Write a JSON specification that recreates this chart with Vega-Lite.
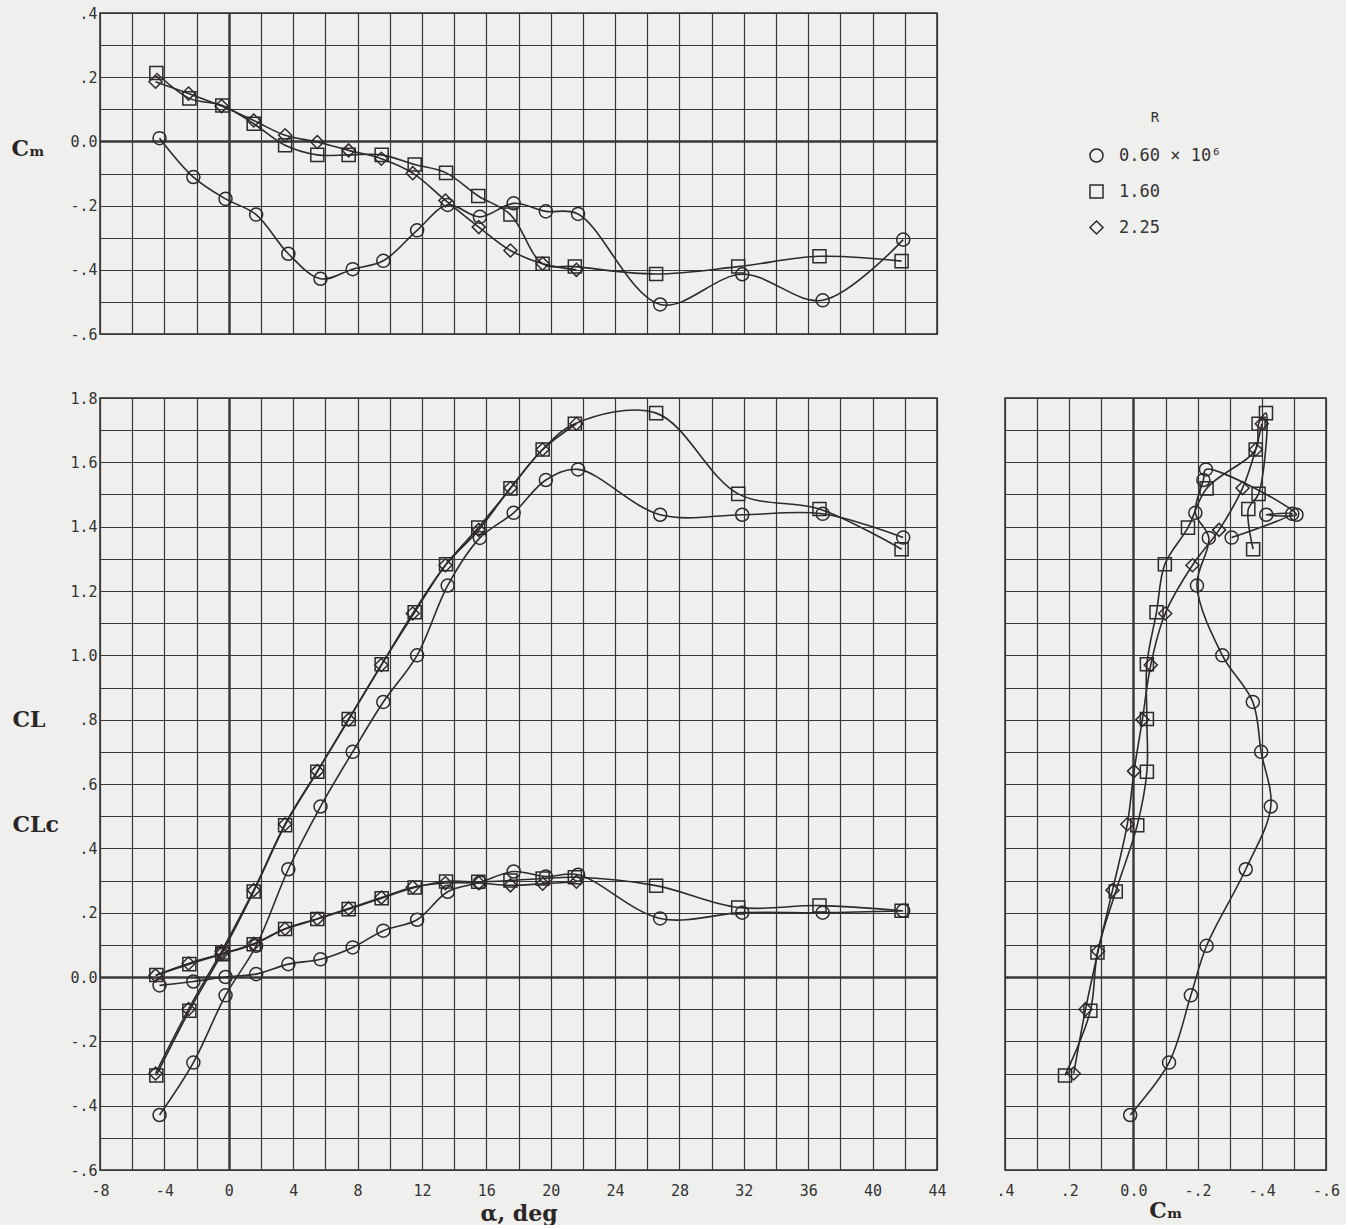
{
  "$schema": "https://vega.github.io/schema/vega-lite/v6.json",
  "background": "#efefed",
  "padding": {"left": 10, "top": 5, "right": 5, "bottom": 0},
  "spacing": 47,
  "datasets": {
    "d": [
      {"R": "0.60", "alpha": -4.3, "Cm": 0.01, "CL": -0.429, "CLc": -0.026},
      {"R": "0.60", "alpha": -2.2, "Cm": -0.111, "CL": -0.266, "CLc": -0.014},
      {"R": "0.60", "alpha": -0.2, "Cm": -0.179, "CL": -0.057, "CLc": 0.0},
      {"R": "0.60", "alpha": 1.7, "Cm": -0.228, "CL": 0.097, "CLc": 0.009},
      {"R": "0.60", "alpha": 3.7, "Cm": -0.35, "CL": 0.335, "CLc": 0.04},
      {"R": "0.60", "alpha": 5.7, "Cm": -0.428, "CL": 0.53, "CLc": 0.055},
      {"R": "0.60", "alpha": 7.7, "Cm": -0.398, "CL": 0.7, "CLc": 0.092},
      {"R": "0.60", "alpha": 9.6, "Cm": -0.372, "CL": 0.855, "CLc": 0.144},
      {"R": "0.60", "alpha": 11.7, "Cm": -0.277, "CL": 1.0, "CLc": 0.178},
      {"R": "0.60", "alpha": 13.6, "Cm": -0.198, "CL": 1.217, "CLc": 0.265},
      {"R": "0.60", "alpha": 15.6, "Cm": -0.235, "CL": 1.365, "CLc": 0.294},
      {"R": "0.60", "alpha": 17.7, "Cm": -0.193, "CL": 1.443, "CLc": 0.328},
      {"R": "0.60", "alpha": 19.7, "Cm": -0.218, "CL": 1.545, "CLc": 0.312},
      {"R": "0.60", "alpha": 21.7, "Cm": -0.226, "CL": 1.578, "CLc": 0.318},
      {"R": "0.60", "alpha": 26.8, "Cm": -0.508, "CL": 1.437, "CLc": 0.182},
      {"R": "0.60", "alpha": 31.9, "Cm": -0.414, "CL": 1.437, "CLc": 0.2},
      {"R": "0.60", "alpha": 36.9, "Cm": -0.495, "CL": 1.44, "CLc": 0.2},
      {"R": "0.60", "alpha": 41.9, "Cm": -0.306, "CL": 1.366, "CLc": 0.206},
      {"R": "1.60", "alpha": -4.5, "Cm": 0.213, "CL": -0.306, "CLc": 0.006},
      {"R": "1.60", "alpha": -2.45, "Cm": 0.134, "CL": -0.105, "CLc": 0.04},
      {"R": "1.60", "alpha": -0.4, "Cm": 0.112, "CL": 0.076, "CLc": 0.071},
      {"R": "1.60", "alpha": 1.55, "Cm": 0.055, "CL": 0.266, "CLc": 0.102},
      {"R": "1.60", "alpha": 3.5, "Cm": -0.012, "CL": 0.472, "CLc": 0.149},
      {"R": "1.60", "alpha": 5.5, "Cm": -0.042, "CL": 0.638, "CLc": 0.18},
      {"R": "1.60", "alpha": 7.45, "Cm": -0.042, "CL": 0.802, "CLc": 0.211},
      {"R": "1.60", "alpha": 9.5, "Cm": -0.042, "CL": 0.972, "CLc": 0.245},
      {"R": "1.60", "alpha": 11.55, "Cm": -0.072, "CL": 1.134, "CLc": 0.278},
      {"R": "1.60", "alpha": 13.5, "Cm": -0.098, "CL": 1.283, "CLc": 0.297},
      {"R": "1.60", "alpha": 15.5, "Cm": -0.17, "CL": 1.397, "CLc": 0.296},
      {"R": "1.60", "alpha": 17.5, "Cm": -0.228, "CL": 1.519, "CLc": 0.3},
      {"R": "1.60", "alpha": 19.5, "Cm": -0.381, "CL": 1.64, "CLc": 0.306},
      {"R": "1.60", "alpha": 21.5, "Cm": -0.39, "CL": 1.72, "CLc": 0.31},
      {"R": "1.60", "alpha": 26.55, "Cm": -0.413, "CL": 1.753, "CLc": 0.284},
      {"R": "1.60", "alpha": 31.65, "Cm": -0.39, "CL": 1.502, "CLc": 0.216},
      {"R": "1.60", "alpha": 36.7, "Cm": -0.358, "CL": 1.455, "CLc": 0.222},
      {"R": "1.60", "alpha": 41.8, "Cm": -0.373, "CL": 1.33, "CLc": 0.206},
      {"R": "2.25", "alpha": -4.55, "Cm": 0.186, "CL": -0.3, "CLc": 0.005},
      {"R": "2.25", "alpha": -2.5, "Cm": 0.149, "CL": -0.1, "CLc": 0.042},
      {"R": "2.25", "alpha": -0.45, "Cm": 0.11, "CL": 0.08, "CLc": 0.072},
      {"R": "2.25", "alpha": 1.55, "Cm": 0.065, "CL": 0.27, "CLc": 0.103},
      {"R": "2.25", "alpha": 3.5, "Cm": 0.019, "CL": 0.475, "CLc": 0.15},
      {"R": "2.25", "alpha": 5.5, "Cm": -0.002, "CL": 0.64, "CLc": 0.181},
      {"R": "2.25", "alpha": 7.45, "Cm": -0.028, "CL": 0.8, "CLc": 0.213},
      {"R": "2.25", "alpha": 9.48, "Cm": -0.054, "CL": 0.97, "CLc": 0.247},
      {"R": "2.25", "alpha": 11.43, "Cm": -0.099, "CL": 1.13, "CLc": 0.279},
      {"R": "2.25", "alpha": 13.46, "Cm": -0.184, "CL": 1.28, "CLc": 0.292},
      {"R": "2.25", "alpha": 15.53, "Cm": -0.267, "CL": 1.39, "CLc": 0.292},
      {"R": "2.25", "alpha": 17.5, "Cm": -0.34, "CL": 1.52, "CLc": 0.285},
      {"R": "2.25", "alpha": 19.5, "Cm": -0.381, "CL": 1.64, "CLc": 0.29},
      {"R": "2.25", "alpha": 21.6, "Cm": -0.4, "CL": 1.72, "CLc": 0.296}
    ]
  },
  "config": {
    "view": {"stroke": "#2e2a2a", "strokeWidth": 1.5},
    "axis": {
      "labelFont": "DejaVu Sans Mono",
      "labelFontSize": 15,
      "labelColor": "#333333",
      "labelFlush": false,
      "labelOverlap": false,
      "ticks": false,
      "domain": false,
      "grid": true,
      "gridColor": "#3a3636",
      "gridOpacity": 1,
      "titleFont": "DejaVu Serif",
      "titleFontSize": 22,
      "titleFontWeight": "bold",
      "titleColor": "#2a2626"
    }
  },
  "vconcat": [
    {
      "width": 837,
      "height": 321,
      "data": {"name": "d"},
      "encoding": {
        "x": {
          "field": "alpha", "type": "quantitative",
          "scale": {"domain": [-8, 44], "nice": false, "zero": false},
          "axis": {
            "values": [-8, -6, -4, -2, 0, 2, 4, 6, 8, 10, 12, 14, 16, 18, 20, 22, 24, 26, 28, 30, 32, 34, 36, 38, 40, 42, 44],
            "labels": false, "title": null,
            "gridWidth": {"condition": {"test": "datum.value == 0", "value": 2.4}, "value": 1.2}
          }
        },
        "y": {
          "field": "Cm", "type": "quantitative",
          "scale": {"domain": [-0.6, 0.4], "nice": false, "zero": false},
          "axis": {
            "values": [-0.6, -0.5, -0.4, -0.3, -0.2, -0.1, 0, 0.1, 0.2, 0.3, 0.4],
            "labelExpr": "round(datum.value*10) % 2 != 0 ? '' : datum.value == 0 ? '0.0' : (datum.value < 0 ? '-' : '') + '.' + round(abs(datum.value)*10) + '\u00a0'",
            "labelPadding": 3,
            "gridWidth": {"condition": {"test": "datum.value == 0", "value": 2.4}, "value": 1.2},
            "title": "Cₘ", "titleAngle": 0, "titleAlign": "left", "titleBaseline": "middle",
            "titleX": -89, "titleY": 135
          }
        }
      },
      "layer": [
        {
          "mark": {"type": "line", "interpolate": "catmull-rom", "color": "#2e2a2a", "strokeWidth": 1.6},
          "encoding": {"detail": {"field": "R"}}
        },
        {
          "mark": {"type": "point", "filled": false, "color": "#2e2a2a", "strokeWidth": 1.5, "size": 170, "opacity": 1},
          "encoding": {
            "shape": {
              "field": "R", "type": "nominal",
              "scale": {"domain": ["0.60", "1.60", "2.25"], "range": ["circle", "square", "diamond"]},
              "legend": {
                "orient": "none", "legendX": 988, "legendY": 98,
                "title": "R", "titleFont": "DejaVu Sans Mono", "titleFontSize": 14, "titleFontWeight": "normal",
                "titleColor": "#333333", "titleAnchor": "middle", "titlePadding": 22,
                "labelFont": "DejaVu Sans Mono", "labelFontSize": 17, "labelColor": "#333333", "labelOffset": 14,
                "rowPadding": 15, "symbolSize": 170, "symbolStrokeColor": "#2e2a2a", "symbolStrokeWidth": 1.5,
                "symbolFillColor": "transparent",
                "labelExpr": "datum.value == '0.60' ? '0.60 × 10⁶' : datum.value"
              }
            }
          }
        }
      ]
    },
    {
      "spacing": 48,
      "hconcat": [
        {
          "width": 837,
          "height": 772,
          "data": {"name": "d"},
          "transform": [{"fold": ["CL", "CLc"], "as": ["kind", "val"]}],
          "encoding": {
            "x": {
              "field": "alpha", "type": "quantitative",
              "scale": {"domain": [-8, 44], "nice": false, "zero": false},
              "axis": {
                "values": [-8, -6, -4, -2, 0, 2, 4, 6, 8, 10, 12, 14, 16, 18, 20, 22, 24, 26, 28, 30, 32, 34, 36, 38, 40, 42, 44],
                "labelExpr": "datum.value % 4 != 0 ? '' : (datum.value < 0 ? '-' : '') + abs(datum.value)",
                "labelPadding": 13,
                "gridWidth": {"condition": {"test": "datum.value == 0", "value": 2.4}, "value": 1.2},
                "title": "α, deg", "titlePadding": 5
              }
            },
            "y": {
              "field": "val", "type": "quantitative",
              "scale": {"domain": [-0.6, 1.8], "nice": false, "zero": false},
              "axis": {
                "values": [-0.6, -0.5, -0.4, -0.3, -0.2, -0.1, 0, 0.1, 0.2, 0.3, 0.4, 0.5, 0.6, 0.7, 0.8, 0.9, 1.0, 1.1, 1.2, 1.3, 1.4, 1.5, 1.6, 1.7, 1.8],
                "labelExpr": "round(datum.value*10) % 2 != 0 ? '' : datum.value == 0 ? '0.0' : (datum.value < 0 ? '-' : '') + (abs(datum.value) >= 1 ? format(abs(datum.value), '.1f') : '.' + round(abs(datum.value)*10)) + '\u00a0'",
                "labelPadding": 3,
                "gridWidth": {"condition": {"test": "datum.value == 0", "value": 2.4}, "value": 1.2},
                "title": ["CL", "CLc"], "titleLineHeight": 105, "titleAngle": 0, "titleAlign": "left", "titleBaseline": "middle",
                "titleX": -88, "titleY": 321
              }
            }
          },
          "layer": [
            {
              "mark": {"type": "line", "interpolate": "catmull-rom", "color": "#2e2a2a", "strokeWidth": 1.6},
              "encoding": {"detail": [{"field": "R"}, {"field": "kind"}]}
            },
            {
              "mark": {"type": "point", "filled": false, "color": "#2e2a2a", "strokeWidth": 1.5, "size": 170, "opacity": 1},
              "encoding": {
                "shape": {
                  "field": "R", "type": "nominal",
                  "scale": {"domain": ["0.60", "1.60", "2.25"], "range": ["circle", "square", "diamond"]},
                  "legend": null
                }
              }
            }
          ]
        },
        {
          "width": 321,
          "height": 772,
          "data": {"name": "d"},
          "encoding": {
            "x": {
              "field": "Cm", "type": "quantitative",
              "scale": {"domain": [-0.6, 0.4], "nice": false, "zero": false, "reverse": true},
              "axis": {
                "values": [-0.6, -0.5, -0.4, -0.3, -0.2, -0.1, 0, 0.1, 0.2, 0.3, 0.4],
                "labelExpr": "round(datum.value*10) % 2 != 0 ? '' : datum.value == 0 ? '0.0' : (datum.value < 0 ? '-' : '') + '.' + round(abs(datum.value)*10)",
                "labelPadding": 13,
                "gridWidth": {"condition": {"test": "datum.value == 0", "value": 2.4}, "value": 1.2},
                "title": "Cₘ", "titlePadding": 2
              }
            },
            "y": {
              "field": "CL", "type": "quantitative",
              "scale": {"domain": [-0.6, 1.8], "nice": false, "zero": false},
              "axis": {
                "values": [-0.6, -0.5, -0.4, -0.3, -0.2, -0.1, 0, 0.1, 0.2, 0.3, 0.4, 0.5, 0.6, 0.7, 0.8, 0.9, 1.0, 1.1, 1.2, 1.3, 1.4, 1.5, 1.6, 1.7, 1.8],
                "labels": false, "title": null,
                "gridWidth": {"condition": {"test": "datum.value == 0", "value": 2.4}, "value": 1.2}
              }
            }
          },
          "layer": [
            {
              "mark": {"type": "line", "interpolate": "catmull-rom", "color": "#2e2a2a", "strokeWidth": 1.6},
              "encoding": {"detail": {"field": "R"}, "order": {"field": "alpha", "type": "quantitative"}}
            },
            {
              "mark": {"type": "point", "filled": false, "color": "#2e2a2a", "strokeWidth": 1.5, "size": 170, "opacity": 1},
              "encoding": {
                "shape": {
                  "field": "R", "type": "nominal",
                  "scale": {"domain": ["0.60", "1.60", "2.25"], "range": ["circle", "square", "diamond"]},
                  "legend": null
                }
              }
            }
          ]
        }
      ]
    }
  ]
}
